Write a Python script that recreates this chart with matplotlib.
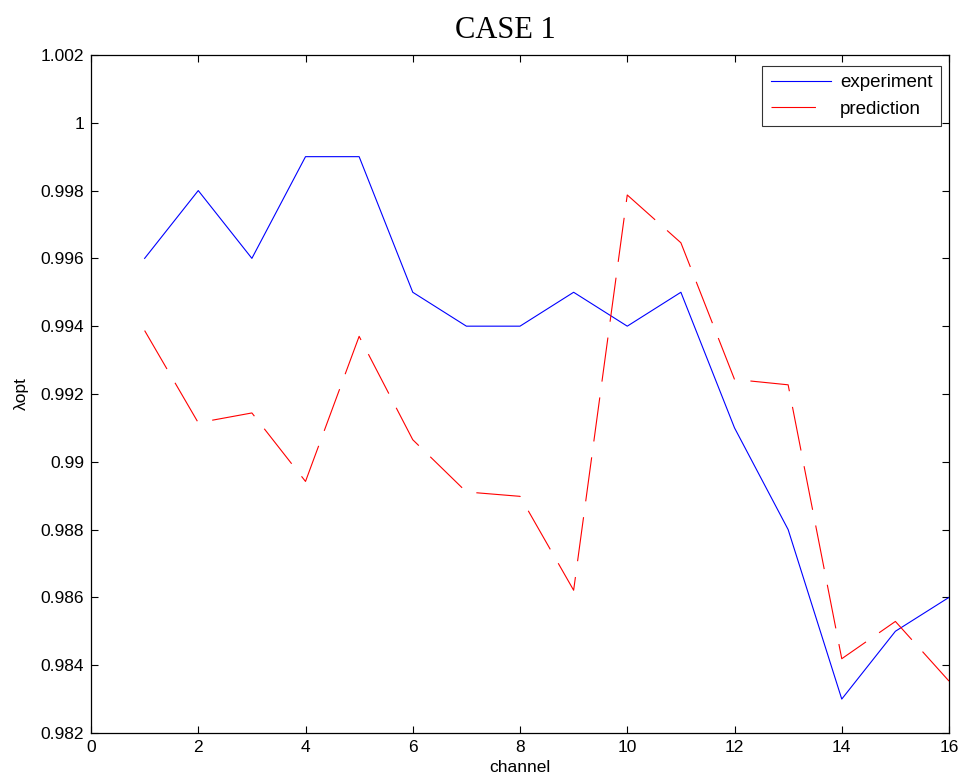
import matplotlib
matplotlib.use("Agg")
import matplotlib.pyplot as plt

plt.rcParams["font.family"] = ["Liberation Sans", "DejaVu Sans"]
plt.rcParams["lines.scale_dashes"] = False

channel = list(range(1, 17))
experiment = [0.996, 0.998, 0.996, 0.999, 0.999, 0.995, 0.994, 0.994,
              0.995, 0.994, 0.995, 0.991, 0.988, 0.983, 0.985, 0.986]
prediction = [0.99387, 0.99115, 0.99144, 0.98942, 0.99370, 0.99065, 0.98911, 0.98898,
              0.98621, 0.99787, 0.99646, 0.99243, 0.99227, 0.98419, 0.98529, 0.98353]

xticks = list(range(0, 17, 2))
yticks = [0.982, 0.984, 0.986, 0.988, 0.99, 0.992, 0.994, 0.996, 0.998, 1.0, 1.002]
ytick_labels = ["0.982", "0.984", "0.986", "0.988", "0.99", "0.992",
                "0.994", "0.996", "0.998", "1", "1.002"]

fig = plt.figure(figsize=(9.62, 7.83), dpi=100)
ax = fig.add_axes([0.0946, 0.0639, 0.8919, 0.8659])

ax.plot(channel, experiment, color="#0000ff", lw=0.8, label="experiment")
ax.plot(channel, prediction, color="#ff0000", lw=0.8, dashes=(32, 11.5),
        label="prediction")

ax.set_xlim(0, 16)
ax.set_ylim(0.982, 1.002)
ax.set_xticks(xticks)
ax.set_yticks(yticks)
ax.set_yticklabels(ytick_labels)
ax.tick_params(direction="in", length=5, width=0.8, labelsize=12.5,
               top=True, right=True, pad=5)
for s in ax.spines.values():
    s.set_linewidth(0.9)

ax.set_xlabel("channel", fontsize=12.5, labelpad=4)
ax.set_ylabel("λopt", fontsize=12.5, labelpad=8)
ax.set_title("CASE 1", fontsize=22, family=["Liberation Serif", "DejaVu Serif"],
             pad=12, x=0.4825)

leg = ax.legend(loc="upper right", bbox_to_anchor=(0.9907, 0.984),
                borderaxespad=0.0, fontsize=13.5, frameon=True, fancybox=False,
                edgecolor="black", handlelength=3.2, handletextpad=0.5,
                borderpad=0.45, labelspacing=0.5)
leg.get_frame().set_linewidth(0.8)

fig.savefig("out.png", dpi=100)
